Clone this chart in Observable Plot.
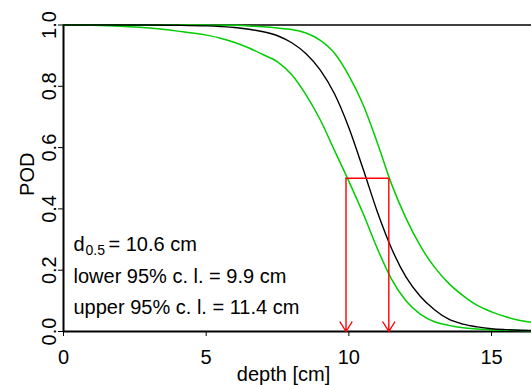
<!DOCTYPE html>
<html>
<head>
<meta charset="utf-8">
<script src="https://cdn.jsdelivr.net/npm/d3@7"></script>
<script src="https://cdn.jsdelivr.net/npm/@observablehq/plot@0.6"></script>
<style>
  html, body { margin: 0; padding: 0; background: #fff; }
</style>
</head>
<body>
<div id="chart"></div>
<script>
// depth values (cm) at which curves were read
const depth = [0, 1, 2, 3, 4, 5, 5.5, 6, 6.5, 7, 7.5, 8, 8.5, 9, 9.5, 10, 10.5, 11, 11.5, 12, 12.5, 13, 13.5, 14, 14.5, 15, 15.5, 16, 16.4];
// POD estimate (black)
const podFit = [1.0, 1.0, 1.0, 1.0, 0.999, 0.997, 0.995, 0.992, 0.986, 0.978, 0.965, 0.942, 0.906, 0.853, 0.775, 0.665, 0.53, 0.39, 0.27, 0.178, 0.115, 0.071, 0.04, 0.024, 0.015, 0.009, 0.006, 0.004, 0.003];
// lower 95% confidence bound (green, left)
const podLower = [1.0, 0.999, 0.996, 0.99, 0.98, 0.967, 0.957, 0.943, 0.925, 0.903, 0.88, 0.838, 0.772, 0.69, 0.59, 0.49, 0.385, 0.27, 0.17, 0.1, 0.057, 0.032, 0.02, 0.012, 0.008, 0.005, 0.004, 0.003, 0.002];
// upper 95% confidence bound (green, right)
const podUpper = [1.0, 1.0, 1.0, 1.0, 1.0, 1.0, 0.999, 0.999, 0.997, 0.994, 0.99, 0.985, 0.974, 0.95, 0.908, 0.835, 0.74, 0.615, 0.48, 0.37, 0.28, 0.21, 0.157, 0.117, 0.085, 0.064, 0.048, 0.036, 0.03];

const d50 = 10.6;
const ciLow = 9.9;
const ciHigh = 11.4;
const xTicks = [0, 5, 10, 15];
const yTicks = [0, 0.2, 0.4, 0.6, 0.8, 1.0];
const yTickLabels = ["0.0", "0.2", "0.4", "0.6", "0.8", "1.0"];

const fit = depth.map((x, i) => ({x, y: podFit[i]}));
const lower = depth.map((x, i) => ({x, y: podLower[i]}));
const upper = depth.map((x, i) => ({x, y: podUpper[i]}));
const arrows = [ciLow, ciHigh].map(x => ({x, y1: 0.5, y2: 0}));

const FONT = "'Liberation Sans', Arial, Helvetica, sans-serif";
const green = "#00cd00";

const chart = Plot.plot({
  width: 531,
  height: 385,
  marginLeft: 63,
  marginRight: 0,
  marginTop: 24.5,
  marginBottom: 54,
  style: {fontFamily: FONT, fontSize: "20px", color: "#000", background: "#fff", overflow: "visible"},
  x: {type: "linear", domain: [0, 16.4]},
  y: {type: "linear", domain: [0, 1]},
  marks: [
    // frame lines
    Plot.ruleY([1], {stroke: "#000", strokeWidth: 1.3}),
    Plot.ruleY([0], {stroke: "#000", strokeWidth: 2}),
    Plot.ruleX([0], {y1: 0, y2: 1, stroke: "#000", strokeWidth: 2}),
    // curves
    Plot.line(lower, {x: "x", y: "y", stroke: green, strokeWidth: 1.5, curve: "monotone-x"}),
    Plot.line(upper, {x: "x", y: "y", stroke: green, strokeWidth: 1.5, curve: "monotone-x"}),
    Plot.line(fit, {x: "x", y: "y", stroke: "#000", strokeWidth: 1.4, curve: "monotone-x"}),
    // 0.5 level connector and arrows
    Plot.ruleY([0.5], {x1: ciLow, x2: ciHigh, stroke: "#ff0000", strokeWidth: 1.3}),
    Plot.arrow(arrows, {x1: "x", x2: "x", y1: "y1", y2: "y2", stroke: "#ff0000", strokeWidth: 1.4, headLength: 12, headAngle: 64}),
    // x axis
    Plot.axisX({ticks: xTicks, tickSize: 5, tickPadding: 13, tickFormat: d => String(d), label: null, fontSize: 20, stroke: "#000", color: "#000"}),
    // y axis ticks
    Plot.axisY({ticks: yTicks, tickSize: 5, tickFormat: () => "", label: null, stroke: "#000"}),
    Plot.text(yTicks, {y: d => d, text: (d, i) => yTickLabels[i], frameAnchor: "left", dx: -8, rotate: -90, textAnchor: "middle", lineAnchor: "bottom", fontSize: 20, fill: "#000"}),
    // axis titles
    Plot.text(["depth [cm]"], {frameAnchor: "bottom", dx: -14, dy: 49.5, textAnchor: "middle", lineAnchor: "bottom", fontSize: 20, fill: "#000"}),
    Plot.text(["POD"], {frameAnchor: "left", dx: -30, dy: -4, rotate: -90, textAnchor: "middle", lineAnchor: "bottom", fontSize: 20, fill: "#000"}),
    // annotation
    Plot.text(["d"], {frameAnchor: "bottom-left", dx: 10, dy: -81, textAnchor: "start", lineAnchor: "bottom", fontSize: 20, fill: "#000"}),
    Plot.text(["0.5"], {frameAnchor: "bottom-left", dx: 22, dy: -77, textAnchor: "start", lineAnchor: "bottom", fontSize: 14, fill: "#000"}),
    Plot.text([`= ${d50} cm`], {frameAnchor: "bottom-left", dx: 45, dy: -81, textAnchor: "start", lineAnchor: "bottom", fontSize: 20, fill: "#000"}),
    Plot.text([`lower 95% c. l. = ${ciLow} cm`], {frameAnchor: "bottom-left", dx: 10, dy: -49, textAnchor: "start", lineAnchor: "bottom", fontSize: 20, fill: "#000"}),
    Plot.text([`upper 95% c. l. = ${ciHigh} cm`], {frameAnchor: "bottom-left", dx: 10, dy: -18, textAnchor: "start", lineAnchor: "bottom", fontSize: 20, fill: "#000"})
  ]
});
document.getElementById("chart").appendChild(chart);
</script>
</body>
</html>
